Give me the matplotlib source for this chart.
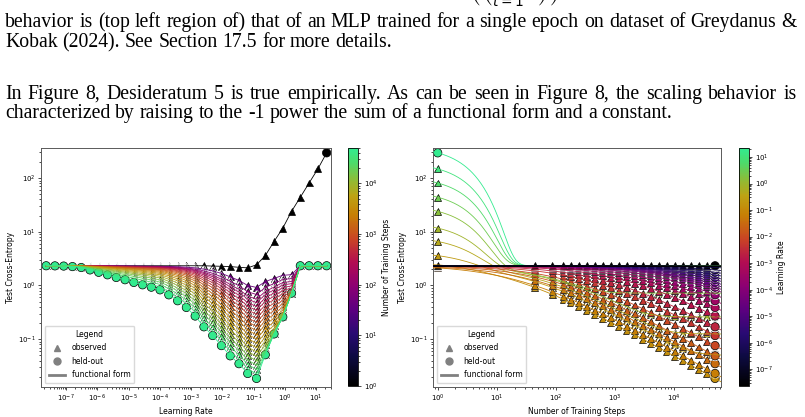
import numpy as np
import matplotlib
matplotlib.use("Agg")
import matplotlib.pyplot as plt
import matplotlib.patheffects as pe
from matplotlib.colors import LinearSegmentedColormap, LogNorm
from matplotlib.cm import ScalarMappable
from matplotlib.lines import Line2D

# ---- data ---------------------------------------------------------------
learning_rates = [2.32e-8, 4.42e-8, 8.43e-8, 1.61e-7, 3.07e-7, 5.85e-7, 1.11e-6,
                  2.13e-6, 4.06e-6, 7.74e-6, 1.48e-5, 2.82e-5, 5.37e-5, 1.02e-4,
                  1.95e-4, 3.73e-4, 7.11e-4, 1.36e-3, 2.59e-3, 4.94e-3, 9.42e-3,
                  1.80e-2, 3.43e-2, 6.54e-2, 0.125, 0.238, 0.454, 0.866, 1.65,
                  3.15, 6.01, 11.47, 21.88]
train_steps = [1, 44, 88, 134, 181, 247, 337, 461, 629, 859, 1173, 1601, 2186,
               2985, 4075, 5564, 7597, 10372, 14161, 19335, 26398, 36042, 50000]
# loss after the first step (black curve, left panel)
loss_step1 = [2.33, 2.33, 2.33, 2.33, 2.33, 2.33, 2.33, 2.33, 2.33, 2.33, 2.33,
              2.33, 2.33, 2.33, 2.33, 2.33, 2.33, 2.33, 2.33, 2.30, 2.28, 2.25,
              2.18, 2.13, 2.43, 3.6, 6.6, 11.7, 24.0, 44.0, 81.0, 148.0, 295.0]
# loss after the last step (green curve, left panel)
loss_final = [2.33, 2.32, 2.30, 2.25, 2.16, 1.95, 1.76, 1.58, 1.41, 1.28, 1.14,
              1.03, 0.93, 0.83, 0.67, 0.52, 0.39, 0.27, 0.17, 0.117, 0.076,
              0.049, 0.035, 0.023, 0.0186, 0.05, 0.12, 0.25, 0.72, 2.35, 2.35,
              2.35, 2.35]
# high learning rates that stall on a plateau: index -> (rate, plateau loss)
plateau_runs = {25: (0.046, 0.050), 26: (0.034, 0.125), 27: (0.024, 0.26),
                28: (0.022, 0.72), 29: (0.0, 2.35), 30: (0.0, 2.35),
                31: (0.0, 2.35), 32: (0.0, 2.35)}

CHANCE = 2.33
POWER = 0.61
SPIKE_DECAY = 3.3

cmap = LinearSegmentedColormap.from_list("lossmap", [
    (0.00, (0.00, 0.00, 0.00)),
    (0.12, (0.05, 0.04, 0.25)),
    (0.22, (0.16, 0.04, 0.45)),
    (0.32, (0.36, 0.00, 0.50)),
    (0.42, (0.55, 0.00, 0.45)),
    (0.52, (0.70, 0.05, 0.32)),
    (0.62, (0.79, 0.27, 0.14)),
    (0.72, (0.78, 0.50, 0.02)),
    (0.80, (0.74, 0.64, 0.08)),
    (0.87, (0.55, 0.74, 0.22)),
    (0.94, (0.30, 0.86, 0.42)),
    (1.00, (0.20, 0.92, 0.56)),
])


def functional_form(i, s):
    """Loss of run i (learning rate index) after s steps."""
    s = np.asarray(s, dtype=float)
    l1 = loss_step1[i]
    l0 = min(l1, CHANCE)
    spike = (l1 - l0) * np.exp(-(s - 1) / SPIKE_DECAY)
    grow = np.clip(s ** POWER - 1, 0, None)
    if i in plateau_runs:
        rate, floor = plateau_runs[i]
        g_cap = 1 / floor - 1 / l0
        if rate <= 0 or g_cap <= 0:
            g = np.zeros_like(s)
        else:
            g = rate * grow
            with np.errstate(divide="ignore"):
                g = np.where(g > 0, (g ** -4 + g_cap ** -4) ** -0.25, 0.0)
    else:
        rate = (1 / loss_final[i] - 1 / l0) / (train_steps[-1] ** POWER - 1)
        g = max(rate, 0) * grow
    return 1 / (1 / l0 + g) + spike


lr = np.array(learning_rates)
steps = np.array(train_steps)
grid = np.array([[functional_form(i, s) for s in steps] for i in range(len(lr))])

W, H = 805, 417
fig = plt.figure(figsize=(W / 100, H / 100), dpi=100)

# ---- page text --------------------------------------------------------
serif = "Liberation Serif"
FS = 14.2


def place_line(text, y, justify):
    words = text.split()
    objs = [fig.text(0, y, w, fontsize=FS, family=serif, va="baseline") for w in words]
    r = fig.canvas.get_renderer()
    widths = [t.get_window_extent(r).width for t in objs]
    space = FS * 100 / 72 * 0.25
    if justify:
        space = (792 - sum(widths)) / (len(words) - 1)
    x = 5
    for t, w in zip(objs, widths):
        t.set_x(x / W)
        x += w + space


fig.text(468 / W, 1 - 9 / H, r"$\left(\left(\prod_{t=1}\ \ \right)\right)$",
         fontsize=FS, va="bottom", ha="left")
place_line("behavior is (top left region of) that of an MLP trained for a single "
           "epoch on dataset of Greydanus &", 1 - 27 / H, True)
place_line("Kobak (2024). See Section 17.5 for more details.", 1 - 47 / H, False)
place_line("In Figure 8, Desideratum 5 is true empirically. As can be seen in "
           "Figure 8, the scaling behavior is", 1 - 99 / H, True)
place_line("characterized by raising to the -1 power the sum of a functional form "
           "and a constant.", 1 - 118 / H, False)

# ---- panels -----------------------------------------------------------
ax1 = fig.add_axes([41 / W, 1 - 387 / H, 290 / W, 239 / H])
cax1 = fig.add_axes([348 / W, 1 - 386 / H, 10 / W, 238 / H])
ax2 = fig.add_axes([433 / W, 1 - 387 / H, 288 / W, 239 / H])
cax2 = fig.add_axes([739 / W, 1 - 386 / H, 10 / W, 238 / H])

step_norm = LogNorm(1, 5e4)
lr_norm = LogNorm(lr.min(), lr.max())
halo = [pe.Stroke(linewidth=1.6, foreground="white"), pe.Normal()]
mk = dict(ls="none", mec="black", mew=0.5, path_effects=halo)


def held_out(i, j):
    # last step of every run, plus the first step of the largest learning rate
    return j == len(steps) - 1 or (i == len(lr) - 1 and j == 0)


# left: loss vs learning rate, one curve per step count
for j, s in enumerate(steps):
    c = cmap(step_norm(s))
    ax1.plot(lr, grid[:, j], color=c, lw=0.6, zorder=3)
    held = np.array([held_out(i, j) for i in range(len(lr))])
    ax1.plot(lr[~held], grid[~held, j], marker="^", ms=5, mfc=c, zorder=2, **mk)
    ax1.plot(lr[held], grid[held, j], marker="o", ms=6, mfc=c, zorder=2, **mk)

# right: loss vs steps, one curve per learning rate
s_fine = np.logspace(-0.08, 4.8, 300)
for i in range(len(lr) - 1, -1, -1):
    c = cmap(lr_norm(lr[i]))
    ax2.plot(s_fine, functional_form(i, s_fine), color=c, lw=0.6, zorder=3)
    held = np.array([held_out(i, j) for j in range(len(steps))])
    ax2.plot(steps[~held], grid[i, ~held], marker="^", ms=5, mfc=c, zorder=2, **mk)
    ax2.plot(steps[held], grid[i, held], marker="o", ms=6, mfc=c, zorder=2, **mk)

legend_handles = [
    Line2D([], [], marker="^", color="gray", ls="none", ms=5),
    Line2D([], [], marker="o", color="gray", ls="none", ms=5),
    Line2D([], [], color="gray", lw=2),
]
for ax, xlabel, xlim in [(ax1, "Learning Rate", (10 ** -7.8, 10 ** 1.48)),
                         (ax2, "Number of Training Steps", (10 ** -0.08, 10 ** 4.8))]:
    ax.set_xscale("log")
    ax.set_yscale("log")
    ax.set_xlim(*xlim)
    ax.set_ylim(10 ** -1.89, 10 ** 2.56)
    ax.set_xlabel(xlabel, fontsize=5.5, labelpad=2)
    ax.set_ylabel("Test Cross-Entropy", fontsize=5.5, labelpad=2)
    ax.tick_params(which="both", labelsize=5, pad=1.5, width=0.5)
    ax.tick_params(which="major", length=2.5)
    ax.tick_params(which="minor", length=1.3)
    for sp in ax.spines.values():
        sp.set_color("0.35")
        sp.set_linewidth(0.7)
    leg = ax.legend(legend_handles, ["observed", "held-out", "functional form"],
                    title="Legend", loc="lower left", fontsize=5.5,
                    title_fontsize=5.5, framealpha=1, edgecolor="0.85",
                    handlelength=2.2, borderpad=0.5, labelspacing=0.6)
    leg.set_zorder(10)

for cax, norm, label in [(cax1, step_norm, "Number of Training Steps"),
                         (cax2, lr_norm, "Learning Rate")]:
    cb = fig.colorbar(ScalarMappable(norm=norm, cmap=cmap), cax=cax)
    cb.set_label(label, fontsize=5.5, labelpad=3)
    cb.ax.tick_params(which="both", labelsize=5, width=0.5, pad=1.5)
    cb.ax.tick_params(which="major", length=2.5)
    cb.ax.tick_params(which="minor", length=1.3)
    cb.outline.set_linewidth(0.6)

fig.savefig("out.png", dpi=100)
